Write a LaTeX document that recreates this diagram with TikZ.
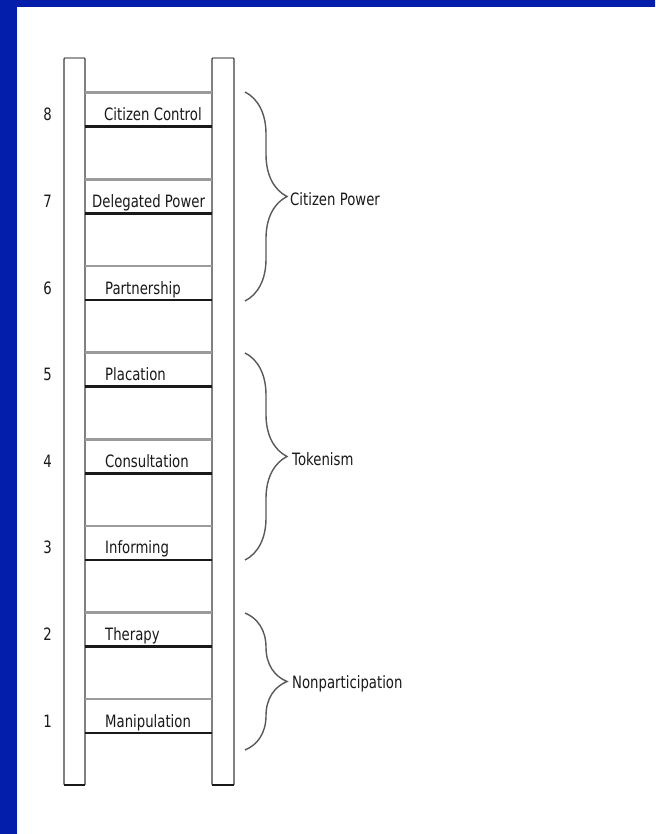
\documentclass[tikz,border=0pt]{standalone}
\usepackage{fontspec}
\setmainfont{DejaVu Sans}[FakeStretch=0.78]
\usetikzlibrary{decorations.pathreplacing}
\definecolor{frame}{RGB}{2, 30, 170}
\definecolor{light}{RGB}{155, 155, 155}
\definecolor{dark}{RGB}{25, 25, 25}

\begin{document}
\begin{tikzpicture}[x=1pt, y=-1pt, font=\fontsize{17}{20}\selectfont, text=dark,
  rail/.style={draw=dark!85, line width=1.4pt, fill=white, rounded corners=1pt},
  rung/.style={line width=2.6pt},
  curly/.style={draw=black!65, line width=1.4pt, decorate,
    decoration={brace, amplitude=42pt}}]
  \useasboundingbox (0, 0) rectangle (655, 834);
  \fill [white] (0, 0) rectangle (655, 834);
  \fill [frame] (0, 0) rectangle (655, 7);
  \fill [frame] (0, 0) rectangle (17, 834);

  % the two rails
  \draw [rail] (64, 58) rectangle +(21, 727);
  \draw [rail] (212, 58) rectangle +(22, 727);
  \draw [line width=2.6pt, dark] (64, 785) -- +(21, 0);
  \draw [line width=2.6pt, dark] (212, 785) -- +(22, 0);
  \draw [line width=2pt, light] (65, 58) -- +(19, 0);
  \draw [line width=2pt, light] (213, 58) -- +(20, 0);

  % rungs, steps and numbers
  \foreach \k/\step/\dx in {1/Manipulation/105, 2/Therapy/105, 3/Informing/105,
      4/Consultation/105, 5/Placation/105, 6/Partnership/105,
      7/Delegated Power/92, 8/Citizen Control/104} {
    \pgfmathsetmacro{\yg}{699 - (\k - 1)*86.6}
    \draw [rung, light] (85, \yg) -- (212, \yg);
    \draw [rung, dark] (85, \yg + 34) -- (212, \yg + 34);
    \node (s\k) [anchor=base west, inner sep=0pt] at (\dx, \yg + 28) {\step};
    \node (n\k) [anchor=base, inner sep=0pt] at (47.5, \yg + 28) {\k};
  }

  % braces
  \draw [curly] (245, 92) -- (245, 301);
  \node [anchor=west, inner sep=0pt] at (290, 199) {Citizen Power};

  \draw [curly] (245, 353) -- (245, 560);
  \node [anchor=west, inner sep=0pt] at (292, 459) {Tokenism};

  \draw [curly] (245, 613) -- (245, 750);
  \node [anchor=west, inner sep=0pt] at (292, 684) {Nonparticipation};
\end{tikzpicture}
\end{document}
